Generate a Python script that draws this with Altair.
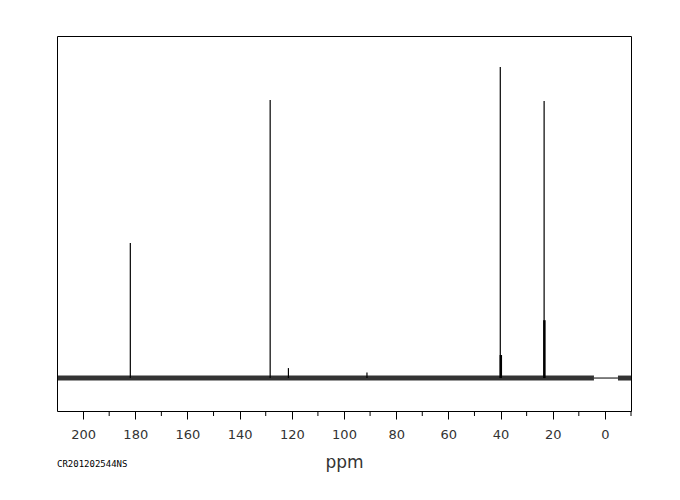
import altair as alt
import pandas as pd

# peak positions (ppm) and heights (relative intensity, tallest = 100)
peak_ppm = [181.9, 128.3, 121.3, 91.2, 40.1, 23.3]
peak_height = [43.4, 89.4, 3.2, 1.8, 100.0, 89.1]
# broader lower components of some peaks
broad_ppm = [39.9, 23.2]
broad_height = [7.4, 18.6]
# noisy baseline segments (ppm) and flat segment
noise_start = [210.0, -5.0]
noise_end = [4.2, -10.0]
noise_half = 0.8
flat_start = [4.2]
flat_end = [-5.0]
major_ticks = [200, 180, 160, 140, 120, 100, 80, 60, 40, 20, 0]
minor_ticks = [190, 170, 150, 130, 110, 90, 70, 50, 30, 10, -10]
sample_id = "CR201202544NS"

W, H = 574, 375
xscale = alt.Scale(domain=[-10, 210], reverse=True, nice=False, zero=False)
yscale = alt.Scale(domain=[-10.6, 110], nice=False, zero=False)

peaks = pd.DataFrame({"ppm": peak_ppm, "h": peak_height, "z": [0] * len(peak_ppm)})
broad = pd.DataFrame({"ppm": broad_ppm, "h": broad_height, "z": [0] * len(broad_ppm)})
noise = pd.DataFrame({"a": noise_start, "b": noise_end,
                      "lo": [-noise_half] * len(noise_start), "hi": [noise_half] * len(noise_start)})
flat = pd.DataFrame({"a": flat_start, "b": flat_end, "z": [0] * len(flat_start)})
minor = pd.DataFrame({"ppm": minor_ticks})

xaxis = alt.Axis(values=major_ticks, title="ppm", domain=False, grid=False,
                 tickSize=8, tickColor="black", labelFont="DejaVu Sans", labelFontSize=13,
                 labelColor="#333", labelPadding=9, titleFont="DejaVu Sans",
                 titleFontSize=17, titleFontWeight="normal", titleColor="#333",
                 titlePadding=13)

base_noise = alt.Chart(noise).mark_rect(color="black", opacity=0.8).encode(
    x=alt.X("a:Q", scale=xscale, axis=xaxis), x2="b:Q",
    y=alt.Y("lo:Q", scale=yscale, axis=None), y2="hi:Q")

flat_line = alt.Chart(flat).mark_rule(color="black", strokeWidth=1).encode(
    x=alt.X("a:Q", scale=xscale), x2="b:Q", y=alt.Y("z:Q", scale=yscale))

peak_rules = alt.Chart(peaks).mark_rule(color="black", strokeWidth=1.2).encode(
    x=alt.X("ppm:Q", scale=xscale), y=alt.Y("z:Q", scale=yscale), y2="h:Q")

broad_rules = alt.Chart(broad).mark_rule(color="black", strokeWidth=2.5).encode(
    x=alt.X("ppm:Q", scale=xscale), y=alt.Y("z:Q", scale=yscale), y2="h:Q")

minor_rules = alt.Chart(minor).mark_rule(color="black", strokeWidth=1).encode(
    x=alt.X("ppm:Q", scale=xscale), y=alt.value(H), y2=alt.value(H + 5))

label = alt.Chart(pd.DataFrame({"t": [sample_id]})).mark_text(
    align="left", baseline="middle", font="DejaVu Sans Mono", fontSize=9, color="black"
).encode(x=alt.value(0), y=alt.value(H + 53), text="t:N")

chart = alt.layer(base_noise, flat_line, peak_rules, broad_rules, minor_rules, label).properties(
    width=W, height=H,
    autosize=alt.AutoSizeParams(type="none"),
    padding={"left": 49, "top": 28, "right": 41, "bottom": 81},
).configure(background="white").configure_view(stroke="black", strokeWidth=1)

chart.save("out.html", embed_options={"renderer": "svg", "actions": False})
